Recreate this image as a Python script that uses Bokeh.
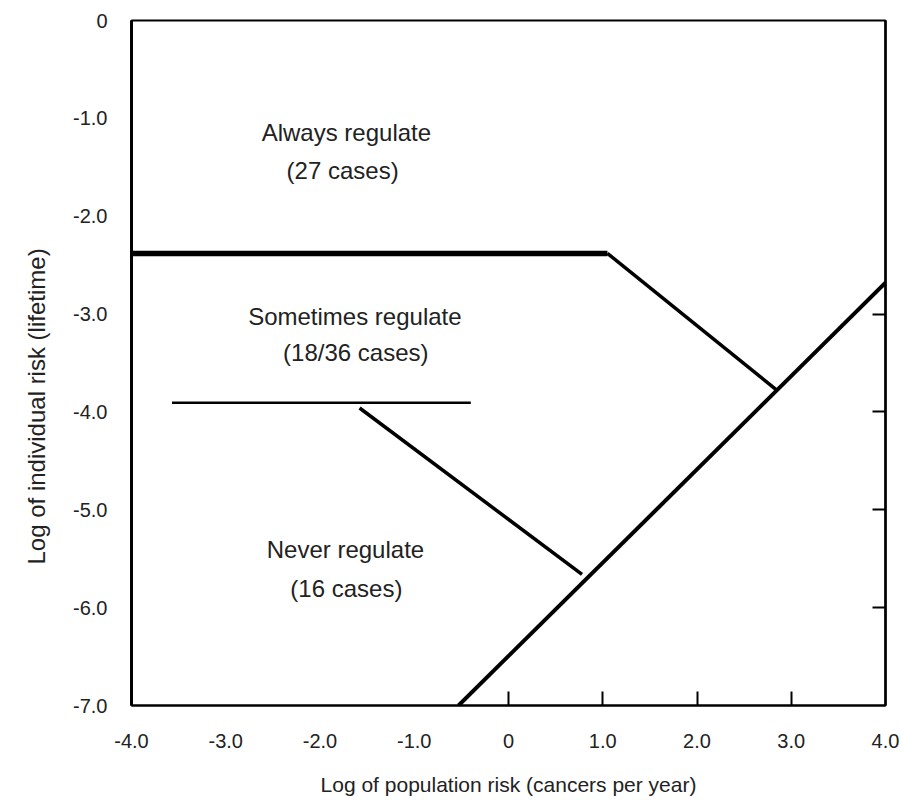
from bokeh.plotting import figure
from bokeh.models import Range1d, LinearAxis, FixedTicker, ColumnDataSource, Title
from bokeh.core.properties import value
from bokeh.embed import file_html
from bokeh.resources import INLINE

# ---- data ----
x_ticks = [-4, -3, -2, -1, 0, 1, 2, 3, 4]
x_tick_labels = ["-4.0", "-3.0", "-2.0", "-1.0", "0", "1.0", "2.0", "3.0", "4.0"]
x_tick_marks = [0, 1, 2, 3]
y_ticks = [0, -1, -2, -3, -4, -5, -6, -7]
y_tick_labels = ["0", "-1.0", "-2.0", "-3.0", "-4.0", "-5.0", "-6.0", "-7.0"]
right_tick_marks = [-3, -4, -5, -6]

# boundary lines
upper_flat_x = [-4.0, 1.05]
upper_flat_y = [-2.38, -2.38]
upper_diag_x = [1.05, 2.85]
upper_diag_y = [-2.38, -3.78]
main_diag_x = [-0.53, 4.0]
main_diag_y = [-7.0, -2.68]
lower_flat_x = [-3.57, -0.40]
lower_flat_y = [-3.905, -3.905]
lower_diag_x = [-1.58, 0.78]
lower_diag_y = [-3.96, -5.66]

# region labels
label_text = ["Always regulate", "(27 cases)", "Sometimes regulate", "(18/36 cases)",
              "Never regulate", "(16 cases)"]
label_x = [-1.72, -1.76, -1.63, -1.62, -1.73, -1.72]
label_y = [-1.14, -1.53, -3.02, -3.39, -5.41, -5.80]

x_title = "Log of population risk (cancers per year)"
y_title = "Log of individual risk (lifetime)"

FONT = "Liberation Sans"
TXT = "#222222"

p = figure(width=900, height=798, x_range=Range1d(-4, 4), y_range=Range1d(-7, 0),
           x_axis_type=None, y_axis_type=None,
           output_backend="svg", toolbar_location=None,
           min_border_left=131, min_border_right=15, min_border_top=20, min_border_bottom=92)
p.outline_line_color = "black"
p.outline_line_width = 2
p.background_fill_color = "white"
p.border_fill_color = "white"

xaxis = LinearAxis(ticker=FixedTicker(ticks=x_ticks, minor_ticks=x_tick_marks),
                   major_label_overrides=dict(zip(x_ticks, x_tick_labels)),
                   axis_line_color="black", axis_line_width=2,
                   major_tick_line_color=None, major_tick_in=0, major_tick_out=0,
                   minor_tick_line_color="black", minor_tick_line_width=2,
                   minor_tick_in=14, minor_tick_out=0,
                   major_label_standoff=28,
                   major_label_text_font=FONT, major_label_text_font_size="20px",
                   major_label_text_color=TXT,
                   axis_label=x_title,
                   axis_label_standoff=22,
                   axis_label_text_font=FONT, axis_label_text_font_size="21px",
                   axis_label_text_font_style="normal", axis_label_text_color=TXT)
p.add_layout(xaxis, "below")

yaxis = LinearAxis(ticker=FixedTicker(ticks=y_ticks),
                   major_label_overrides=dict(zip(y_ticks, y_tick_labels)),
                   axis_line_color="black", axis_line_width=3,
                   major_tick_line_color=None, major_tick_in=0, major_tick_out=0,
                   minor_tick_line_color=None,
                   major_label_standoff=24,
                   major_label_text_font=FONT, major_label_text_font_size="20px",
                   major_label_text_color=TXT)
p.add_layout(yaxis, "left")

p.add_layout(Title(text=y_title, align="left", offset=141, standoff=41,
                   text_font=FONT, text_font_size="24px", text_font_style="normal",
                   text_color=TXT), "left")

raxis = LinearAxis(ticker=FixedTicker(ticks=[], minor_ticks=right_tick_marks),
                   axis_line_color="black", axis_line_width=2.5,
                   major_tick_line_color=None, major_tick_in=0, major_tick_out=0,
                   minor_tick_line_color="black", minor_tick_line_width=2,
                   minor_tick_in=13, minor_tick_out=0)
p.add_layout(raxis, "right")

p.line(upper_flat_x, upper_flat_y, line_color="black", line_width=5.5)
p.line(upper_diag_x, upper_diag_y, line_color="black", line_width=3.5)
p.line(main_diag_x, main_diag_y, line_color="black", line_width=4)
p.line(lower_flat_x, lower_flat_y, line_color="black", line_width=2.5)
p.line(lower_diag_x, lower_diag_y, line_color="black", line_width=3.5)

src = ColumnDataSource(dict(x=label_x, y=label_y, text=label_text))
p.text(x="x", y="y", text="text", source=src, text_font=value(FONT),
       text_font_size="24px", text_align="center", text_baseline="middle",
       text_color=TXT)

open("out.html", "w").write(file_html(p, INLINE))
